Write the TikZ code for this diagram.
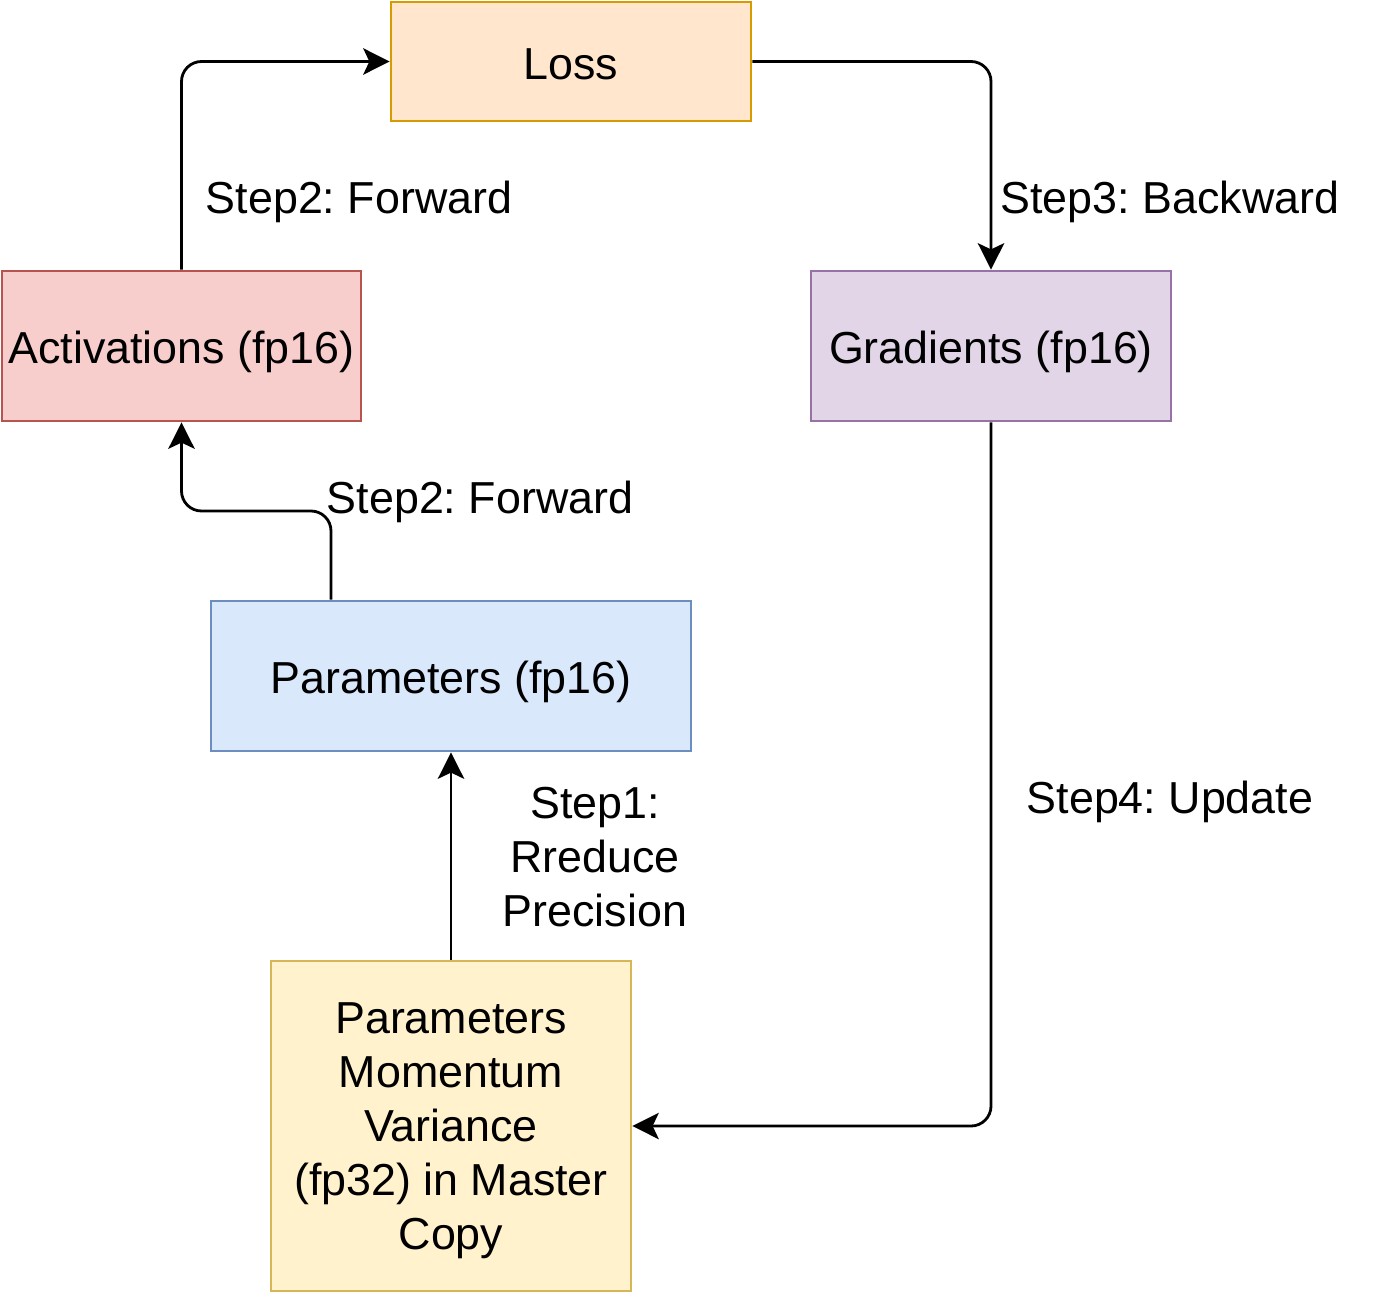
\documentclass[tikz,border=0pt]{standalone}
\usepackage{fontspec}
\setmainfont{Liberation Sans}
\usepackage{tikz}
\usetikzlibrary{shapes,arrows,arrows.meta}
\definecolor{lossfill}{HTML}{FFE6CC}\definecolor{lossdraw}{HTML}{D79B00}
\definecolor{actfill}{HTML}{F8CECC}\definecolor{actdraw}{HTML}{B85450}
\definecolor{gradfill}{HTML}{E1D5E7}\definecolor{graddraw}{HTML}{9673A6}
\definecolor{parfill}{HTML}{DAE8FC}\definecolor{pardraw}{HTML}{6C8EBF}
\definecolor{mastfill}{HTML}{FFF2CC}\definecolor{mastdraw}{HTML}{D6B656}
\tikzstyle{block} = [rectangle, draw, line width=1.6pt, inner sep=0pt,
    align=center, minimum width=7.2cm, minimum height=3cm,
    text height=20pt, text depth=0pt,
    font=\fontsize{25.5}{30.7}\selectfont]
\tikzstyle{steplabel} = [align=center, inner sep=0pt,
    font=\fontsize{25.5}{30.7}\selectfont]
\tikzstyle{arrow} = [line width=1.6pt, rounded corners=0.4cm, ->,
    >={Stealth[length=15pt,width=15pt,inset=3.5pt]}]

\begin{document}
\frenchspacing
\begin{tikzpicture}
		\useasboundingbox (0,0) rectangle (27.66,-25.86);
		% draw the text boxes first
		\node [block, fill=lossfill, draw=lossdraw, minimum height=2.38cm] (loss) at (11.42,-1.23) {Loss};
		\node [block, fill=actfill, draw=actdraw, minimum width=7.18cm] (activations) at (3.63,-6.92) {Activations (fp16)};
		\node [block, fill=gradfill, draw=graddraw] (gradients) at (19.82,-6.92) {Gradients (fp16)};
		\node [block, fill=parfill, draw=pardraw, minimum width=9.6cm] (params) at (9.02,-13.52) {Parameters (fp16)};
		\node [block, fill=mastfill, draw=mastdraw, minimum height=6.6cm, text height=, text depth=-3pt] (master) at (9.02,-22.52)
			{Parameters\\Momentum\\Variance\\(fp32) in Master\\Copy};

		% draw the step labels
		\node [steplabel, text height=20pt, text depth=0pt] (fwdtop) at (7.18,-3.91) {Step2: Forward};
		\node [steplabel, text height=20pt, text depth=0pt] (backward) at (23.40,-3.91) {Step3: Backward};
		\node [steplabel, text height=20pt, text depth=0pt] (fwdmid) at (9.60,-9.91) {Step2: Forward};
		\node [steplabel] (reduce) at (11.90,-17.14) {Step1:\\Rreduce\\Precision};
		\node [steplabel, text height=20pt, text depth=0pt] (update) at (23.40,-15.91) {Step4: Update};

		% draw the edges connecting text boxes
		\draw [arrow] (activations.north) |- (loss.west);
		\draw [arrow] (loss.east) -| (gradients.north);
		\draw [arrow] (params.north -| 6.62,0) -- (6.62,-10.22) -| (activations.south);
		\draw [arrow] (master.north) -- (params.south);
		\draw [arrow] (gradients.south) |- (master.east);
	\end{tikzpicture}
\end{document}
